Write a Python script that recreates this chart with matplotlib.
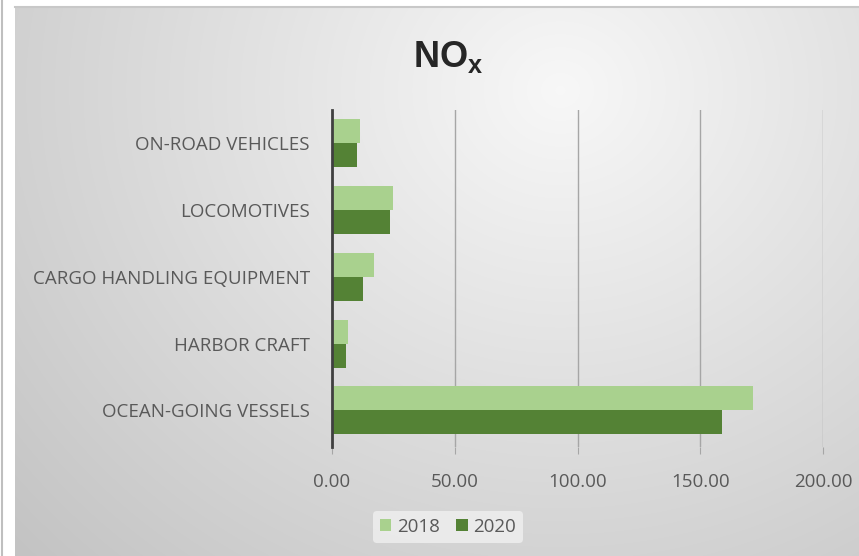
import numpy as np
import matplotlib
matplotlib.use("Agg")
import matplotlib.pyplot as plt

# NOx emissions by source category
categories = [
    "OCEAN-GOING VESSELS",
    "HARBOR CRAFT",
    "CARGO HANDLING EQUIPMENT",
    "LOCOMOTIVES",
    "ON-ROAD VEHICLES",
]
nox_2018 = [171.5, 6.6, 17.3, 25.0, 11.6]
nox_2020 = [158.9, 5.6, 12.7, 23.8, 10.1]
years = ["2018", "2020"]
xticks = [0, 50, 100, 150, 200]

light_green = "#a9d18e"
dark_green = "#548235"
text_col = "#595959"

plt.rcParams["font.family"] = ["Open Sans", "DejaVu Sans"]

W, H = 859, 556
fig = plt.figure(figsize=(W / 100, H / 100), dpi=100)

# gradient background of the chart area
bg = fig.add_axes([0, 0, 1, 1], zorder=-2)
yy, xx = np.mgrid[0:H, 0:W]
r = np.sqrt(((xx - 560) / 620.0) ** 2 + ((yy - 90) / 560.0) ** 2)
shade = np.clip(0.97 - 0.17 * r, 0.76, 0.97)
img = np.dstack([shade, shade, shade])
img[:, :15] = 1.0
img[:7, :] = 1.0
bg.imshow(img, extent=[0, W, H, 0], aspect="auto", interpolation="bilinear")
bg.plot([2, 2], [0, H], color="#bfbfbf", lw=1.5)
bg.plot([15, W], [7, 7], color="#c8c8c8", lw=1.5)
bg.set_xlim(0, W)
bg.set_ylim(H, 0)
bg.axis("off")

ax = fig.add_axes([332 / W, 1 - 447 / H, (823 - 332) / W, (447 - 110) / H])
ax.patch.set_alpha(0)

y = np.arange(len(categories))
h = 0.36
ax.barh(y + h / 2, nox_2018, height=h, color=light_green, label=years[0], zorder=3)
ax.barh(y - h / 2, nox_2020, height=h, color=dark_green, label=years[1], zorder=3)

ax.set_xlim(0, 200)
ax.set_ylim(-0.55, 4.5)
ax.set_xticks(xticks)
ax.set_xticklabels([f"{v:.2f}" for v in xticks])
ax.set_yticks(y)
ax.set_yticklabels(categories)
ax.tick_params(axis="y", length=0, pad=16, labelsize=13.5, labelcolor=text_col)
ax.tick_params(axis="x", length=5, color="#a6a6a6", pad=14, labelsize=13.5, labelcolor=text_col)

ax.grid(axis="x", color="#a6a6a6", lw=1, zorder=1)
for s in ["top", "right", "bottom"]:
    ax.spines[s].set_visible(False)
ax.spines["left"].set_color("#404040")
ax.spines["left"].set_linewidth(2)
ax.spines["left"].set_zorder(4)

fig.text(448 / W, 1 - 57 / H, r"NO$_\mathregular{x}$", ha="center", va="center",
         fontsize=26, fontweight="bold", color="#262626", family="Liberation Sans")

leg = fig.legend(loc="center", bbox_to_anchor=(448 / W, 1 - 527 / H), ncol=2,
                 frameon=True, fontsize=13.5, handlelength=0.6, handleheight=0.6,
                 handletextpad=0.3, columnspacing=0.9, borderpad=0.35)
leg.get_frame().set_facecolor("#f0f0f0")
leg.get_frame().set_edgecolor("none")
leg.get_frame().set_alpha(0.8)
for t in leg.get_texts():
    t.set_color(text_col)

fig.savefig("out.png", dpi=100)
